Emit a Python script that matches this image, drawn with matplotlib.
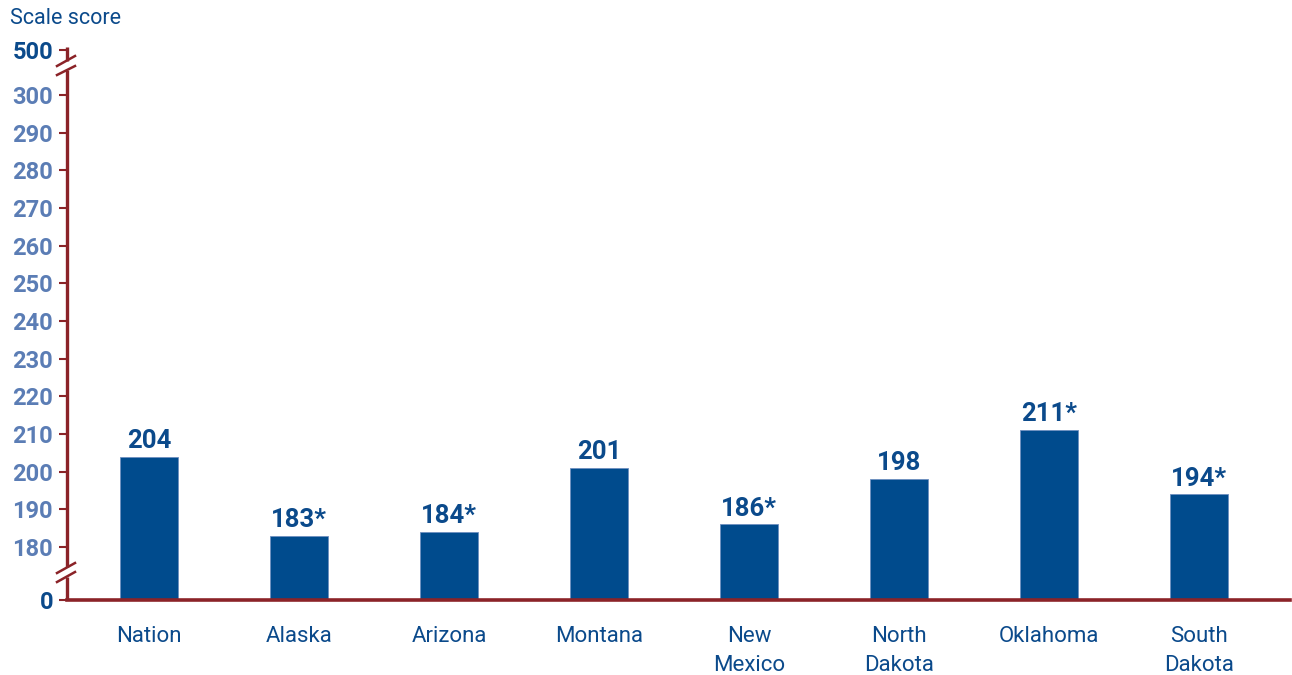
import matplotlib
matplotlib.use("Agg")
import matplotlib.pyplot as plt

states = ["Nation", "Alaska", "Arizona", "Montana", "New\nMexico",
          "North\nDakota", "Oklahoma", "South\nDakota"]
scores = [204, 183, 184, 201, 186, 198, 211, 194]
labels = ["204", "183*", "184*", "201", "186*", "198", "211*", "194*"]
mid_ticks = list(range(180, 301, 10))

BAR = "#004B8D"
AXIS = "#8B2328"
DARK = "#0B4A8B"
LIGHT = "#5B7DB5"

W, H = 1292, 675
PX = 3.767  # pixels per score point in the 180-300 band


def pos(y_px):
    # pixel row -> axis position (score units in the 180-300 band)
    return 300 + (95 - y_px) / PX


def xd(x_px):
    return (x_px - 149) / 150.0


plt.rcParams["font.family"] = ["Roboto", "DejaVu Sans"]

fig = plt.figure(figsize=(W / 100, H / 100), dpi=100)
ax = fig.add_axes([67 / W, (H - 600) / H, (1290 - 67) / W, (600 - 47) / H])
ax.set_xlim(xd(67), xd(1290))
ax.set_ylim(pos(600), pos(47))

base = pos(600)
x = list(range(len(states)))
ax.bar(x, [s - base for s in scores], bottom=base, width=0.39, color=BAR,
       edgecolor="#6E8FC0", linewidth=0.6, zorder=3)
for xi, s, lab in zip(x, scores, labels):
    ax.text(xi, s + 1.0, lab, ha="center", va="bottom", fontsize=18.5,
            fontweight="bold", color=DARK)

for side in ["top", "right", "left"]:
    ax.spines[side].set_visible(False)
ax.spines["bottom"].set_color(AXIS)
ax.spines["bottom"].set_linewidth(2.6)
ax.spines["bottom"].set_zorder(4)

# broken y axis
for y0, y1 in [(600, 577), (567, 70), (61, 47)]:
    ax.plot([xd(67), xd(67)], [pos(y0), pos(y1)], color=AXIS, lw=2.4,
            clip_on=False, solid_capstyle="butt", zorder=4)
for (x0, y0, x1, y1) in [(57, 582, 75, 572), (57, 573, 75, 563),
                         (57, 66, 75, 56), (57, 75, 75, 66)]:
    ax.plot([xd(x0), xd(x1)], [pos(y0), pos(y1)], color=AXIS, lw=1.8,
            clip_on=False, zorder=4)

yt = [pos(600)] + mid_ticks + [pos(50)]
ytl = ["0"] + [str(t) for t in mid_ticks] + ["500"]
ax.set_yticks(yt)
ax.set_yticklabels(ytl, fontsize=17, fontweight="bold")
ax.tick_params(axis="y", length=6, width=1.5, color=AXIS, pad=4)
for t in ax.get_yticklabels():
    t.set_color(DARK if t.get_text() in ("0", "500") else LIGHT)

ax.set_xticks(x)
ax.set_xticklabels(states, fontsize=16, color=DARK, linespacing=1.45,
                   va="top")
ax.tick_params(axis="x", length=0, pad=19)

fig.text(10 / W, 1 - 19 / H, "Scale score", fontsize=15.5, color=DARK,
         ha="left", va="center")

fig.savefig("out.png", dpi=100)
